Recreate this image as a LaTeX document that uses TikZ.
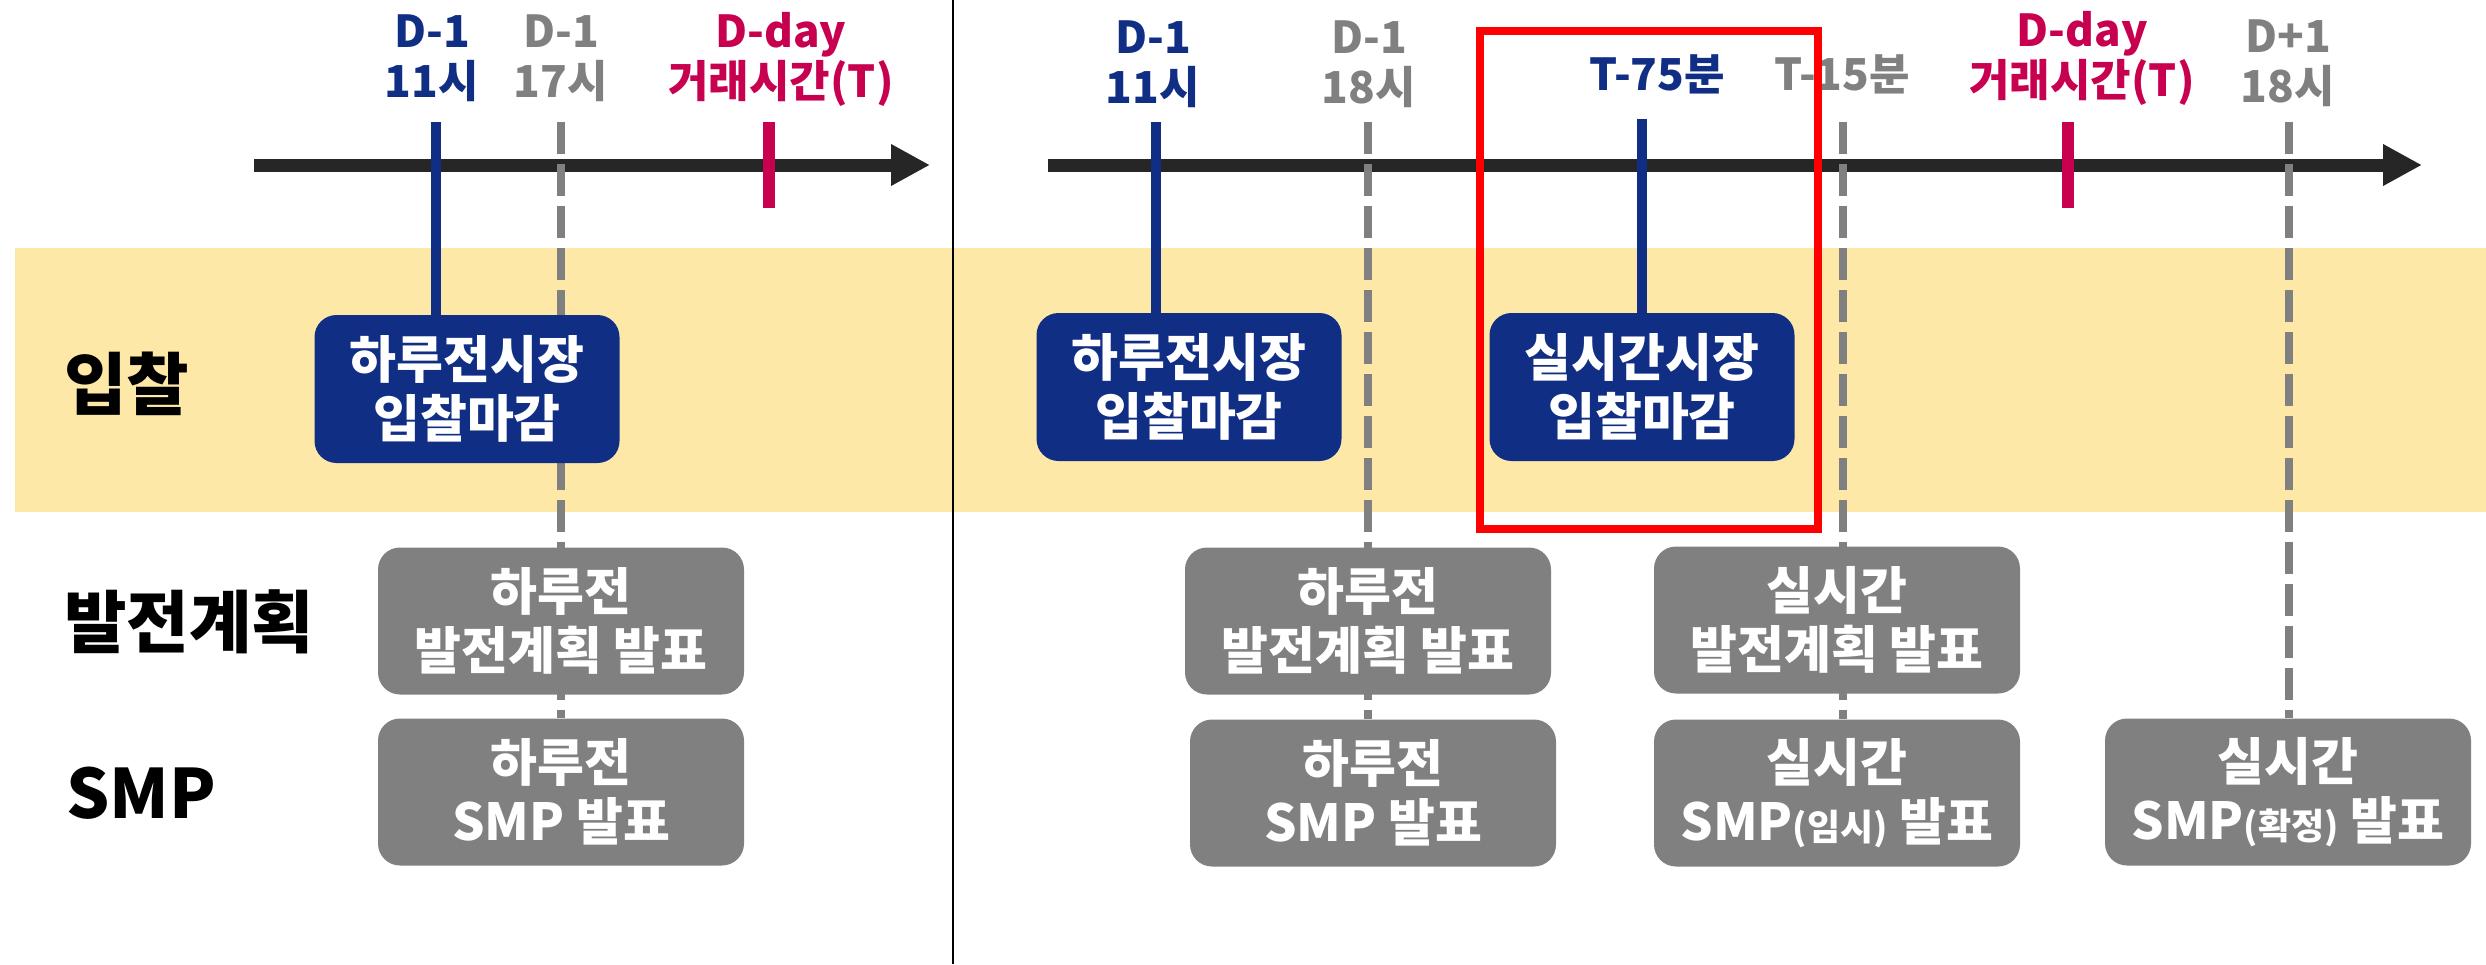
\documentclass[tikz,border=0pt]{standalone}
\usepackage{fontspec}
\setmainfont{Noto Sans CJK KR}
\usetikzlibrary{arrows.meta}
\pgfdeclarelayer{background}
\pgfsetlayers{background,main}

\definecolor{navy}{RGB}{16,46,132}
\definecolor{crimson}{RGB}{200,0,80}
\definecolor{markgray}{RGB}{128,128,128}
\definecolor{bandyellow}{RGB}{254,232,168}
\definecolor{axisblack}{RGB}{38,38,38}

\tikzset{
	bidbox/.style={rounded corners=22pt, fill=navy, text=white, align=center, inner sep=0pt,
		minimum width=305pt, minimum height=148pt, font=\bfseries\fontsize{51}{59}\selectfont},
	pubbox/.style={rounded corners=22pt, fill=markgray, text=white, align=center, inner sep=0pt,
		minimum width=366pt, minimum height=147pt, font=\bfseries\fontsize{51}{59}\selectfont},
	timelabel/.style={align=center, font=\bfseries\fontsize{44}{50}\selectfont},
	rowlabel/.style={anchor=west, inner sep=0pt, font=\bfseries\fontsize{68}{72}\selectfont},
	solidmark/.style={draw=navy, line width=10pt},
	dashmark/.style={draw=markgray, line width=8pt, dash pattern=on 32pt off 10pt},
	daymark/.style={draw=crimson, line width=12pt},
	timeaxis/.style={draw=axisblack, line width=13pt, -{Triangle[length=39pt,width=39pt]}}
}
\newcommand{\subnote}{\fontsize{36}{36}\selectfont}

\begin{document}
\begin{tikzpicture}[x=1pt,y=-1pt]
	\useasboundingbox (0,0) rectangle (2486,964);

	% row labels
	\node[rowlabel] (rowbid) at (64,384) {입찰};
	\node[rowlabel] (rowplan) at (64,622) {발전계획};
	\node[rowlabel] (rowsmp) at (66,793) {SMP};

	% time labels
	\node[timelabel, text=navy] (lblDa) at (432,58) {D-1\\11시};
	\node[timelabel, text=markgray] (lblDb) at (561,58) {D-1\\17시};
	\node[timelabel, text=crimson] (lblDc) at (781,59) {D-day\\거래시간(T)};
	\node[timelabel, text=navy] (lblRa) at (1153,64) {D-1\\11시};
	\node[timelabel, text=markgray] (lblRb) at (1369,64) {D-1\\18시};
	\node[timelabel, text=navy] (lblRc) at (1657,74) {T-75분};
	\node[timelabel, text=markgray] (lblRd) at (1842,74) {T-15분};
	\node[timelabel, text=crimson] (lblRe) at (2082,58) {D-day\\거래시간(T)};
	\node[timelabel, text=markgray] (lblRf) at (2288,63) {D+1\\18시};

	% boxes
	\node[bidbox] (bidDay) at (467,389) {하루전시장\\입찰마감};
	\node[pubbox] (planDay) at (561,621) {하루전\\발전계획 발표};
	\node[pubbox] (smpDay) at (561,792) {하루전\\SMP 발표};
	\node[bidbox] (bidDayR) at (1189,387) {하루전시장\\입찰마감};
	\node[bidbox] (bidRT) at (1642,387) {실시간시장\\입찰마감};
	\node[pubbox] (planDayR) at (1368,621) {하루전\\발전계획 발표};
	\node[pubbox] (smpDayR) at (1373,793) {하루전\\SMP 발표};
	\node[pubbox] (planRT) at (1837,620) {실시간\\발전계획 발표};
	\node[pubbox] (smpRT) at (1837,793) {실시간\\SMP{\subnote(임시)} 발표};
	\node[pubbox] (smpFix) at (2288,792) {실시간\\SMP{\subnote(확정)} 발표};

	% tick tops
	\coordinate (tA) at (436,122);
	\coordinate (tB) at (561,122);
	\coordinate (tC) at (769,122);
	\coordinate (tRa) at (1156,122);
	\coordinate (tRb) at (1368,122);
	\coordinate (tRc) at (1642,119);
	\coordinate (tRd) at (1843,122);
	\coordinate (tRe) at (2068,122);
	\coordinate (tRf) at (2289,122);
	\coordinate (axA) at (254,165);
	\coordinate (axB) at (930,165);
	\coordinate (axC) at (1048,165);
	\coordinate (axD) at (2422,165);

	\begin{pgfonlayer}{background}
		\fill[bandyellow] (15,248) rectangle (2486,512);
		\draw[line width=2pt] (953,0) -- (953,964);
		\draw[timeaxis] (axA) -- (axB);
		\draw[timeaxis] (axC) -- (axD);
		\draw[solidmark] (tA) -- (tA |- bidDay.north);
		\draw[solidmark] (tRa) -- (tRa |- bidDayR.north);
		\draw[solidmark] (tRc) -- (tRc |- bidRT.north);
		\draw[dashmark] (tB) -- (tB |- smpDay.north);
		\draw[dashmark] (tRb) -- (tRb |- smpDayR.north);
		\draw[dashmark] (tRd) -- (tRd |- smpRT.north);
		\draw[dashmark] (tRf) -- (tRf |- smpFix.north);
		\draw[daymark] (tC) -- ++(0,86);
		\draw[daymark] (tRe) -- ++(0,86);
	\end{pgfonlayer}

	% real-time bid window
	\draw[red, line width=8pt] (1480,31) rectangle (1818,529);
\end{tikzpicture}
\end{document}
